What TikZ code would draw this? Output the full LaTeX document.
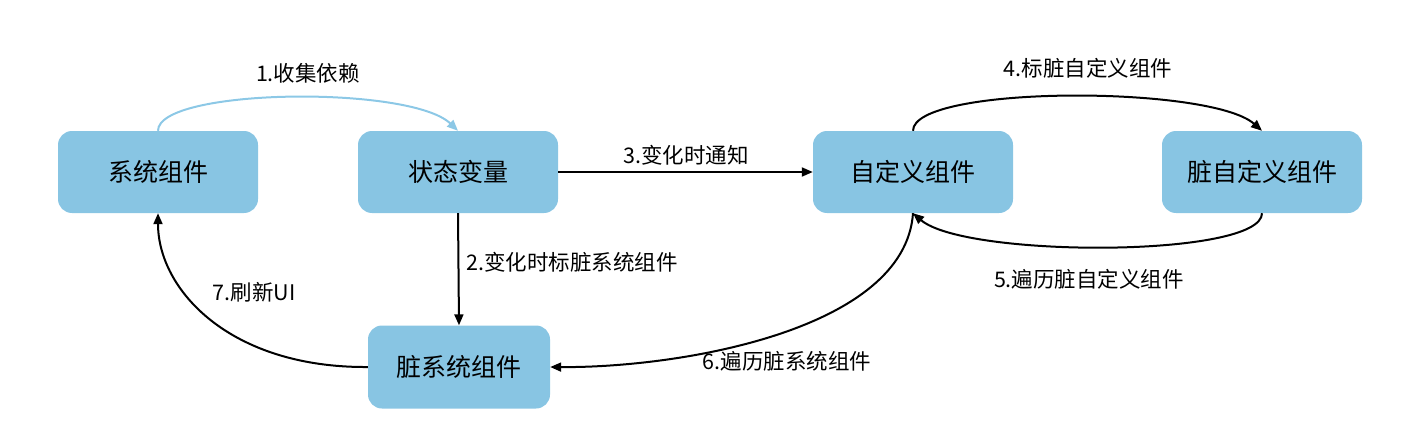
\documentclass[tikz,border=0pt]{standalone}
\usepackage{fontspec}
\setmainfont{Noto Sans CJK SC}
\usetikzlibrary{arrows.meta}
\definecolor{boxblue}{HTML}{88C5E3}
\definecolor{lineblue}{HTML}{8CC8E6}
\begin{document}
\begin{tikzpicture}[x=1pt,y=-1pt,
  box/.style={fill=boxblue,draw=none,rounded corners=14pt,minimum width=200pt,minimum height=82pt,inner sep=0pt,font=\fontsize{25}{28}\selectfont},
  lbl/.style={font=\fontsize{21.5}{24}\selectfont,inner sep=0pt},
  conn/.style={line width=2pt,-{Triangle[length=11pt,width=9pt]}}]
\useasboundingbox (0,0) rectangle (1417,444);
\node[box] (sys) at (158,172) {系统组件};
\node[box] (state) at (458,172) {状态变量};
\node[box] (custom) at (913,172) {自定义组件};
\node[box] (dcustom) at (1262,172) {脏自定义组件};
\node[box,minimum width=182pt,minimum height=83pt] (dsys) at (459,367) {脏系统组件};
\draw[conn,draw=lineblue,-{Triangle[length=11pt,width=9pt,fill=lineblue]},color=lineblue] (sys.north) .. controls (158,88) and (410,85) .. (state.north);
\draw[conn] (state.south) -- (dsys.north);
\draw[conn] (state.east) -- (custom.west);
\draw[conn] (custom.north) .. controls (913,85) and (1210,85) .. (dcustom.north);
\draw[conn] (dcustom.south) .. controls (1262,258) and (965,258) .. (custom.south);
\draw[conn] (custom.south) .. controls (905,330) and (680,368) .. (dsys.east);
\draw[conn] (dsys.west) .. controls (230,368) and (158,290) .. (sys.south);
\node[lbl] (l1) at (308,73) {1.收集依赖};
\node[lbl,anchor=west] (l2) at (466,262) {2.变化时标脏系统组件};
\node[lbl] (l3) at (686,155) {3.变化时通知};
\node[lbl] (l4) at (1088,68) {4.标脏自定义组件};
\node[lbl] (l5) at (1089,279) {5.遍历脏自定义组件};
\node[lbl] (l6) at (787,361) {6.遍历脏系统组件};
\node[lbl] (l7) at (254,292) {7.刷新UI};
\end{tikzpicture}
\end{document}
